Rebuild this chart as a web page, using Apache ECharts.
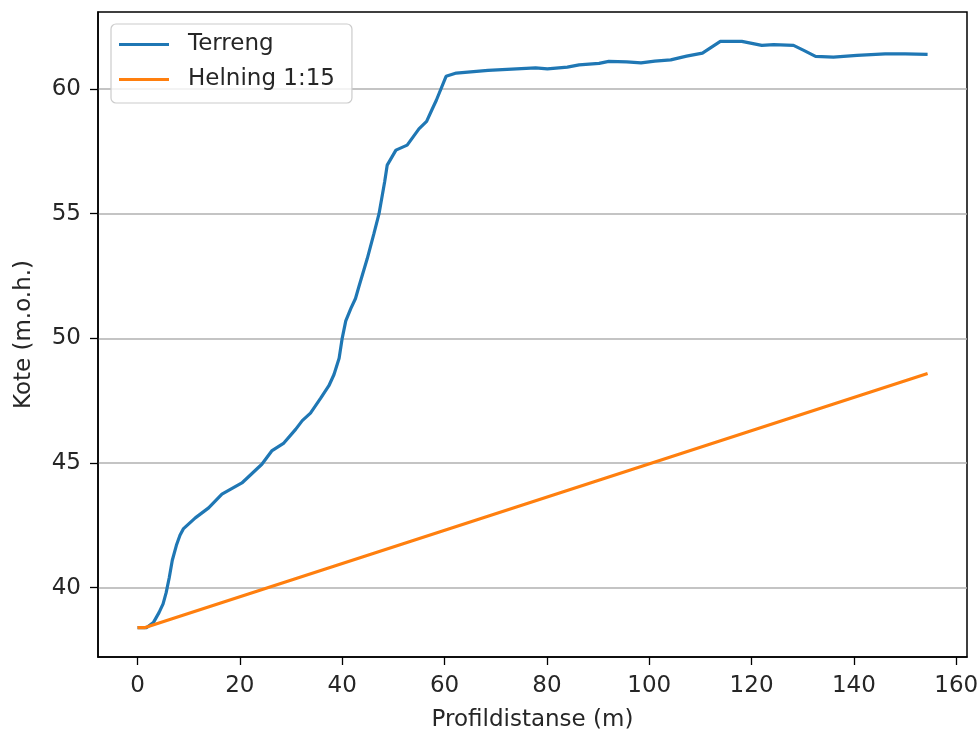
<!DOCTYPE html>
<html>
<head>
<meta charset="utf-8">
<script src="https://cdn.jsdelivr.net/npm/echarts@6/dist/echarts.min.js"></script>
<style>html,body{margin:0;padding:0;background:#fff}#c{width:980px;height:733px}</style>
</head>
<body>
<div id="c"></div>
<script>
// Terreng profile (distance m, elevation m.o.h.)
const terrengX = [0,1.8,3.1,4.2,5.0,5.6,6.2,6.8,7.6,8.3,9.0,11.3,13.9,16.5,20.4,24.3,26.3,28.6,30.9,32.2,33.8,35.8,37.4,38.4,39.4,40.0,40.7,41.7,42.6,43.3,44.9,46.2,47.2,48.3,48.8,50.5,52.7,55.0,56.5,57.6,58.4,60.3,62.3,68.5,77.8,80.1,84.0,86.3,90.2,92.1,95.6,98.4,101.1,104.2,107.3,110.4,113.9,118.1,122.0,124.3,128.2,130.2,132.5,136.0,140.6,146.1,150.0,154.4];
const terrengY = [38.4,38.4,38.6,39.0,39.35,39.8,40.4,41.1,41.7,42.1,42.37,42.8,43.2,43.75,44.2,44.95,45.5,45.8,46.35,46.7,47.0,47.6,48.1,48.55,49.2,50.0,50.7,51.2,51.6,52.1,53.2,54.2,55.0,56.28,56.95,57.55,57.75,58.4,58.7,59.2,59.55,60.51,60.64,60.75,60.85,60.81,60.88,60.97,61.03,61.11,61.09,61.05,61.12,61.17,61.32,61.44,61.91,61.91,61.75,61.78,61.75,61.55,61.31,61.28,61.35,61.41,61.41,61.39];
// Helning 1:15
const helningX = [0,1.5,154.4];
const helningY = [38.4,38.4,48.59];
// Tick labels
const xTicks = [0,20,40,60,80,100,120,140,160];
const yTicks = [40,45,50,55,60];

const zip = (a,b) => a.map((v,i)=>[v,b[i]]);
const FONT = 'DejaVu Sans';
const FS = 23;
const TXT = '#262626';

const chart = echarts.init(document.getElementById('c'), null, {renderer:'canvas'});
chart.setOption({
  animation:false,
  backgroundColor:'#fff',
  textStyle:{fontFamily:FONT},
  grid:{left:98, top:12, right:13, bottom:76, containLabel:false, outerBoundsMode:'none',
        show:true, borderColor:'#000', borderWidth:1.5, backgroundColor:'transparent'},
  legend:{
    left:111, top:24, orient:'vertical',
    padding:[9,17,12,8],
    icon:'rect',
    itemWidth:50, itemHeight:3, itemGap:12,
    backgroundColor:'rgba(255,255,255,0.8)',
    borderColor:'#cccccc', borderWidth:1.2, borderRadius:5,
    textStyle:{fontFamily:FONT, fontSize:FS, lineHeight:23, color:TXT, padding:[0,0,0,14]},
    data:['Terreng','Helning 1:15']
  },
  xAxis:{
    type:'value', min:-7.72, max:162.1,
    name:'Profildistanse (m)', nameLocation:'middle', nameGap:52,
    nameTextStyle:{fontFamily:FONT, fontSize:FS, color:TXT},
    axisLine:{show:true, onZero:false, lineStyle:{color:'#000', width:1.5}},
    axisTick:{show:true, length:8, customValues:xTicks, lineStyle:{color:'#000', width:1.3}},
    axisLabel:{customValues:xTicks, fontFamily:FONT, fontSize:FS, color:TXT, margin:18},
    splitLine:{show:false}
  },
  yAxis:{
    type:'value', min:37.22, max:63.09,
    name:'Kote (m.o.h.)', nameLocation:'middle', nameGap:62, nameRotate:90,
    nameTextStyle:{fontFamily:FONT, fontSize:FS, color:TXT},
    axisLine:{show:true, onZero:false, lineStyle:{color:'#000', width:1.5}},
    axisTick:{show:true, length:8, customValues:yTicks, lineStyle:{color:'#000', width:1.3}},
    axisLabel:{customValues:yTicks, fontFamily:FONT, fontSize:FS, color:TXT, margin:17},
    splitLine:{show:true, lineStyle:{color:'#b0b0b0', width:1.5}}
  },
  series:[
    {name:'Terreng', type:'line', data:zip(terrengX,terrengY), symbol:'none', smooth:false,
     lineStyle:{color:'#1f77b4', width:3.2}, itemStyle:{color:'#1f77b4'}, z:3},
    {name:'Helning 1:15', type:'line', data:zip(helningX,helningY), symbol:'none',
     lineStyle:{color:'#ff7f0e', width:3.2}, itemStyle:{color:'#ff7f0e'}, z:4}
  ]
});
</script>
</body>
</html>
